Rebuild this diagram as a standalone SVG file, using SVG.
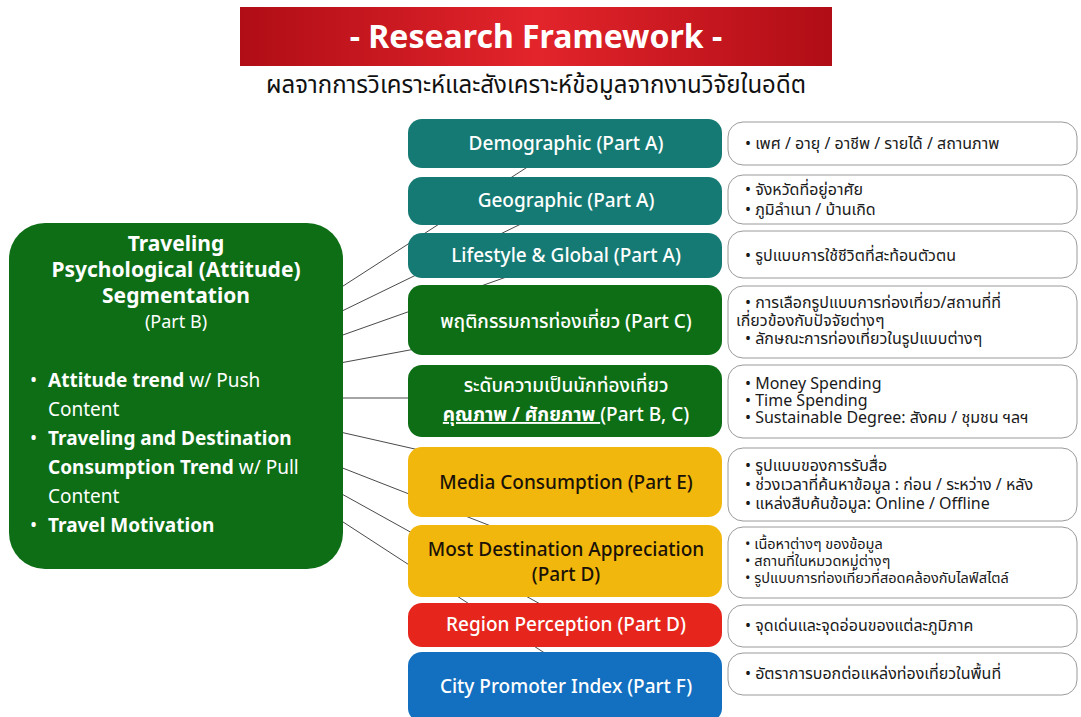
<svg xmlns="http://www.w3.org/2000/svg" width="1081" height="717" viewBox="0 0 1081 717">
  <defs>
    <linearGradient id="bannerGrad" x1="0" y1="0" x2="1" y2="0">
      <stop offset="0" stop-color="#b00d16"/>
      <stop offset="0.5" stop-color="#e3242b"/>
      <stop offset="1" stop-color="#b00d16"/>
    </linearGradient>
    <style>
      text { font-family: "Noto Sans", "Noto Sans Thai", "DejaVu Sans", sans-serif; }
      .title { font-size: 32px; font-weight: 700; fill: #ffffff; }
      .sub { font-size: 24px; fill: #111111; }
      .lbl { font-size: 19px; font-weight: 500; fill: #ffffff; text-anchor: middle; }
      .lbl.dark { fill: #1a1208; }
      .head { font-size: 21px; font-weight: 700; fill: #ffffff; text-anchor: middle; }
      .headsub { font-size: 18px; fill: #ffffff; text-anchor: middle; }
      .item { font-size: 19px; fill: #ffffff; }
      .b { font-weight: 700; }
      .det { font-size: 16px; fill: #1a1a1a; }
      .det.tight { font-size: 14.5px; }
      .detail { fill: #ffffff; stroke: #9a9a9a; stroke-width: 1; }
      .teal { fill: #167a74; }
      .green { fill: #0d6e16; }
      .amber { fill: #f2b70c; }
      .red { fill: #e6261c; }
      .blue { fill: #136fc0; }
      .conn line { stroke: #4a4a4a; stroke-width: 1; }
    </style>
  </defs>

  <rect width="1081" height="717" fill="#ffffff"/>

  <!-- header -->
  <g id="header">
    <rect x="240" y="7" width="592" height="59" fill="url(#bannerGrad)"/>
    <text class="title" x="536" y="48" text-anchor="middle">- Research Framework -</text>
    <text class="sub" x="536" y="93" text-anchor="middle">ผลจากการวิเคราะห์และสังเคราะห์ข้อมูลจากงานวิจัยในอดีต</text>
  </g>

  <!-- connectors from the segmentation block to each dimension -->
  <g id="connectors" class="conn">
    <line x1="340" y1="288" x2="560" y2="146"/>
    <line x1="340" y1="312" x2="560" y2="205"/>
    <line x1="340" y1="336" x2="560" y2="258"/>
    <line x1="340" y1="363" x2="560" y2="322"/>
    <line x1="340" y1="398" x2="560" y2="398"/>
    <line x1="340" y1="432" x2="560" y2="482"/>
    <line x1="340" y1="467" x2="560" y2="553"/>
    <line x1="340" y1="493" x2="560" y2="615"/>
    <line x1="340" y1="520" x2="560" y2="663"/>
  </g>

  <!-- segmentation block -->
  <g id="segmentation">
    <rect x="9" y="223" width="334" height="346" rx="36" class="green"/>
    <text class="head" x="176" y="251">Traveling</text>
    <text class="head" x="176" y="277">Psychological (Attitude)</text>
    <text class="head" x="176" y="303">Segmentation</text>
    <text class="headsub" x="176" y="328">(Part B)</text>
    <text class="item" x="30" y="387">•</text>
    <text class="item" x="48" y="387"><tspan class="b">Attitude trend</tspan> w/ Push</text>
    <text class="item" x="48" y="416">Content</text>
    <text class="item" x="30" y="445">•</text>
    <text class="item b" x="48" y="445">Traveling and Destination</text>
    <text class="item" x="48" y="474"><tspan class="b">Consumption Trend</tspan> w/ Pull</text>
    <text class="item" x="48" y="503">Content</text>
    <text class="item" x="30" y="532">•</text>
    <text class="item b" x="48" y="532">Travel Motivation</text>
  </g>

  <!-- dimensions -->
  <g id="demographic">
    <rect x="408" y="119" width="314" height="49" rx="14" class="teal"/>
    <text class="lbl" x="566" y="150">Demographic (Part A)</text>
  </g>
  <g id="geographic">
    <rect x="408" y="177" width="314" height="48" rx="14" class="teal"/>
    <text class="lbl" x="566" y="207">Geographic (Part A)</text>
  </g>
  <g id="lifestyle">
    <rect x="408" y="233" width="314" height="45" rx="14" class="teal"/>
    <text class="lbl" x="566" y="262">Lifestyle &amp; Global (Part A)</text>
  </g>
  <g id="behaviour">
    <rect x="408" y="285" width="314" height="70" rx="14" class="green"/>
    <text class="lbl" x="566" y="328">พฤติกรรมการท่องเที่ยว (Part C)</text>
  </g>
  <g id="tourist-level">
    <rect x="408" y="365" width="314" height="72" rx="14" class="green"/>
    <text class="lbl" x="566" y="392">ระดับความเป็นนักท่องเที่ยว</text>
    <text class="lbl" x="566" y="421"><tspan font-weight="700" text-decoration="underline">คุณภาพ / ศักยภาพ </tspan>(Part B, C)</text>
  </g>
  <g id="media">
    <rect x="408" y="447" width="314" height="70" rx="14" class="amber"/>
    <text class="lbl dark" x="566" y="489">Media Consumption (Part E)</text>
  </g>
  <g id="destination">
    <rect x="408" y="525" width="314" height="72" rx="14" class="amber"/>
    <text class="lbl dark" x="566" y="556">Most Destination Appreciation</text>
    <text class="lbl dark" x="566" y="581">(Part D)</text>
  </g>
  <g id="region">
    <rect x="408" y="603" width="314" height="44" rx="14" class="red"/>
    <text class="lbl" x="566" y="631">Region Perception (Part D)</text>
  </g>
  <g id="promoter">
    <rect x="408" y="652" width="314" height="70" rx="14" class="blue"/>
    <text class="lbl" x="566" y="693">City Promoter Index (Part F)</text>
  </g>

  <!-- detail notes -->
  <g id="detail-demographic">
    <rect x="728" y="122" width="349" height="43" rx="15" class="detail"/>
    <text class="det" x="745" y="149">• เพศ / อายุ / อาชีพ / รายได้ / สถานภาพ</text>
  </g>
  <g id="detail-geographic">
    <rect x="728" y="175" width="349" height="49" rx="15" class="detail"/>
    <text class="det" x="745" y="195">• จังหวัดที่อยู่อาศัย</text>
    <text class="det" x="745" y="215">• ภูมิลำเนา / บ้านเกิด</text>
  </g>
  <g id="detail-lifestyle">
    <rect x="728" y="231" width="349" height="47" rx="15" class="detail"/>
    <text class="det" x="745" y="261">• รูปแบบการใช้ชีวิตที่สะท้อนตัวตน</text>
  </g>
  <g id="detail-behaviour">
    <rect x="728" y="286" width="349" height="72" rx="15" class="detail"/>
    <text class="det" x="745" y="308">•  การเลือกรูปแบบการท่องเที่ยว/สถานที่ที่</text>
    <text class="det" x="736" y="326">เกี่ยวข้องกับปัจจัยต่างๆ</text>
    <text class="det" x="745" y="344">• ลักษณะการท่องเที่ยวในรูปแบบต่างๆ</text>
  </g>
  <g id="detail-tourist-level">
    <rect x="728" y="365" width="349" height="73" rx="15" class="detail"/>
    <text class="det" x="745" y="389">• Money Spending</text>
    <text class="det" x="745" y="406">• Time Spending</text>
    <text class="det" x="745" y="423">• Sustainable Degree: สังคม / ชุมชน ฯลฯ</text>
  </g>
  <g id="detail-media">
    <rect x="728" y="448" width="349" height="73" rx="15" class="detail"/>
    <text class="det" x="745" y="471">• รูปแบบของการรับสื่อ</text>
    <text class="det" x="745" y="490">• ช่วงเวลาที่ค้นหาข้อมูล : ก่อน / ระหว่าง / หลัง</text>
    <text class="det" x="745" y="509">• แหล่งสืบค้นข้อมูล: Online / Offline</text>
  </g>
  <g id="detail-destination">
    <rect x="728" y="527" width="349" height="71" rx="15" class="detail"/>
    <text class="det tight" x="745" y="549">• เนื้อหาต่างๆ ของข้อมูล</text>
    <text class="det tight" x="745" y="566">• สถานที่ในหมวดหมู่ต่างๆ</text>
    <text class="det tight" x="745" y="583">• รูปแบบการท่องเที่ยวที่สอดคล้องกับไลฟ์สไตล์</text>
  </g>
  <g id="detail-region">
    <rect x="728" y="605" width="349" height="42" rx="15" class="detail"/>
    <text class="det" x="745" y="631">• จุดเด่นและจุดอ่อนของแต่ละภูมิภาค</text>
  </g>
  <g id="detail-promoter">
    <rect x="728" y="653" width="349" height="42" rx="15" class="detail"/>
    <text class="det" x="745" y="679">• อัตราการบอกต่อแหล่งท่องเที่ยวในพื้นที่</text>
  </g>
</svg>
